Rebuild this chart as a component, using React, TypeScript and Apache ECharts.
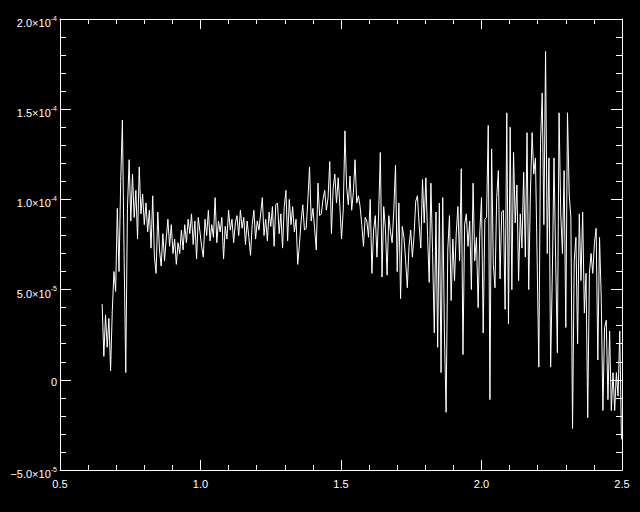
import React, { useEffect, useRef } from "react";
import * as echarts from "echarts";

// Sampling grid of the spectrum
const X_START = 0.65;
const X_STEP = 0.006;

// Flux values, in units of 1e-5
const VALUES_E5: number[] = [
  4.2, 1.3, 3.6, 1.8, 3.4, 0.5, 3.8, 6.0, 4.9, 9.5,
  6.0, 11.0, 14.4, 7.0, 0.4, 9.5, 12.2, 8.8, 11.4, 9.0,
  10.5, 7.8, 11.8, 9.2, 10.3, 8.6, 9.8, 8.2, 9.4, 7.3,
  10.2, 6.8, 5.9, 9.3, 7.2, 6.3, 8.1, 6.6, 7.8, 8.9,
  7.4, 8.6, 7.0, 7.8, 6.4, 7.6, 7.0, 8.3, 7.2, 8.6,
  7.6, 8.9, 8.1, 9.2, 7.5, 8.8, 6.7, 9.0, 8.2, 7.4,
  6.8, 8.9, 8.0, 9.4, 7.7, 8.6, 7.9, 10.1, 7.6, 8.8,
  8.2, 9.0, 6.7, 8.5, 7.8, 9.4, 8.3, 8.9, 7.6, 8.7,
  9.1, 8.0, 9.4, 8.4, 9.0, 7.5, 8.8, 7.9, 6.9, 8.6,
  9.4, 7.8, 8.8, 8.3, 9.2, 10.1, 8.0, 8.9, 7.7, 9.3,
  8.5, 9.6, 7.4, 9.7, 9.8, 8.1, 9.2, 7.3, 9.6, 10.5,
  7.7, 10.0, 8.6, 9.6, 8.2, 8.9, 6.4, 7.5, 8.8, 9.7,
  8.3, 8.4, 9.9, 11.8, 8.8, 9.5, 8.4, 7.2, 10.9, 9.1,
  9.2, 10.0, 10.5, 9.4, 10.1, 12.1, 8.1, 10.6, 11.4, 9.8,
  11.2, 9.6, 7.8, 9.4, 13.8, 10.7, 9.7, 11.3, 9.4, 10.4,
  12.2, 9.8, 10.2, 9.6, 8.6, 7.4, 9.0, 8.8, 7.9, 10.0,
  5.9, 8.3, 9.1, 6.8, 9.2, 12.6, 5.7, 9.6, 8.4, 5.8,
  9.1, 8.2, 7.6, 9.4, 11.9, 6.0, 9.8, 4.5, 8.5, 7.9,
  6.6, 5.1, 7.4, 8.3, 6.8, 8.0, 9.9, 10.2, 8.6, 7.3,
  11.1, 8.7, 11.2, 8.0, 5.4, 10.9, 7.0, 2.6, 9.3, 1.8,
  9.8, 0.4, 10.1, 2.6, -1.8, 7.2, 9.1, 4.4, 7.8, 5.5,
  8.1, 9.6, 6.6, 11.7, 1.4, 8.6, 9.2, 7.4, 8.8, 5.0,
  10.9, 6.6, 7.9, 4.0, 8.2, 10.1, 2.6, 8.9, 9.0, 14.1,
  -1.1, 12.8, 6.4, 5.1, 10.1, 11.6, 5.6, 9.3, 9.4, 3.9,
  14.8, 3.1, 14.0, 5.0, 12.6, 8.7, 10.8, 5.5, 9.2, 7.3,
  11.5, 6.8, 13.7, 5.0, 10.3, 13.7, 11.4, 12.3, 6.7, 0.7,
  13.1, 15.9, 8.6, 18.2, 7.0, 12.3, 0.7, 5.8, 12.3, 6.6,
  1.5, 14.8, 9.2, 7.0, 11.6, 2.9, 14.8, 10.3, 9.0, -2.7,
  6.6, 7.9, 2.0, 9.2, 5.5, 9.3, 3.7, 5.9, -2.1, 5.9,
  7.0, 5.9, 7.6, 8.4, 1.1, 7.9, 4.6, -1.7, 2.9, 3.3,
  -1.1, 2.7, -1.7, 0.4, -1.7, 0.4, -0.9, 2.7, -3.3,
];

const X_MIN = 0.5;
const X_MAX = 2.5;
const X_INTERVAL = 0.5;
const Y_MIN = -5e-5;
const Y_MAX = 2e-4;
const Y_INTERVAL = 5e-5;

// "2.0×10" as main text with the exponent drawn as a raised, smaller rich-text token
function sciLabel(v: number): string {
  if (Math.abs(v) < 1e-12) return "0";
  const a = Math.abs(v);
  const e = Math.floor(Math.log10(a) + 1e-9);
  const m = a / Math.pow(10, e);
  const sign = v < 0 ? "\u2212" : "";
  return "{m|" + sign + m.toFixed(1) + "\u00D710}{e|" + String(e) + "}";
}

const FONT = "Liberation Sans";
const WHITE = "#ffffff";

function xAxisDef(position: "bottom" | "top", showLabel: boolean) {
  return {
    type: "value",
    position,
    min: X_MIN,
    max: X_MAX,
    interval: X_INTERVAL,
    axisLine: { show: true, onZero: false, lineStyle: { color: WHITE, width: 1 } },
    axisTick: { show: true, inside: true, length: 10, lineStyle: { color: WHITE, width: 1 } },
    minorTick: { show: true, splitNumber: 5, length: 5, lineStyle: { color: WHITE, width: 1 } },
    splitLine: { show: false },
    axisLabel: {
      show: showLabel,
      color: WHITE,
      fontFamily: FONT,
      fontSize: 11,
      margin: 8,
      formatter: (v: number) => v.toFixed(1),
    },
  };
}

function yAxisDef(position: "left" | "right", showLabel: boolean) {
  return {
    type: "value",
    position,
    min: Y_MIN,
    max: Y_MAX,
    interval: Y_INTERVAL,
    axisLine: { show: true, onZero: false, lineStyle: { color: WHITE, width: 1 } },
    axisTick: { show: true, inside: true, length: 11, lineStyle: { color: WHITE, width: 1 } },
    minorTick: { show: true, splitNumber: 5, length: 6, lineStyle: { color: WHITE, width: 1 } },
    splitLine: { show: false },
    axisLabel: {
      show: showLabel,
      color: WHITE,
      fontFamily: FONT,
      fontSize: 11,
      margin: 3,
      padding: [5, 0, 0, 0],
      formatter: (v: number) => sciLabel(v),
      rich: {
        m: { color: WHITE, fontFamily: FONT, fontSize: 11, padding: [3, 0, 0, 0], verticalAlign: "bottom" },
        e: { color: WHITE, fontFamily: FONT, fontSize: 7, verticalAlign: "top" },
      },
    },
  };
}

export default function App() {
  const ref = useRef<HTMLDivElement>(null);
  useEffect(() => {
    if (!ref.current) return;
    const chart = echarts.init(ref.current, undefined, { renderer: "svg" });
    const data = VALUES_E5.map((v, i) => [X_START + i * X_STEP, v * 1e-5]);
    chart.setOption({
      animation: false,
      backgroundColor: "#000000",
      grid: { left: 60, right: 18, top: 19, bottom: 42 },
      xAxis: [xAxisDef("bottom", true), xAxisDef("top", false)],
      yAxis: [yAxisDef("left", true), yAxisDef("right", false)],
      series: [
        {
          type: "line",
          xAxisIndex: 0,
          yAxisIndex: 0,
          data,
          showSymbol: false,
          symbol: "none",
          lineStyle: { color: WHITE, width: 1 },
          silent: true,
        },
      ],
    });
    return () => chart.dispose();
  }, []);
  return (
    <div
      ref={ref}
      style={{ position: "fixed", left: 0, top: 0, width: 640, height: 512, background: "#000" }}
    />
  );
}
